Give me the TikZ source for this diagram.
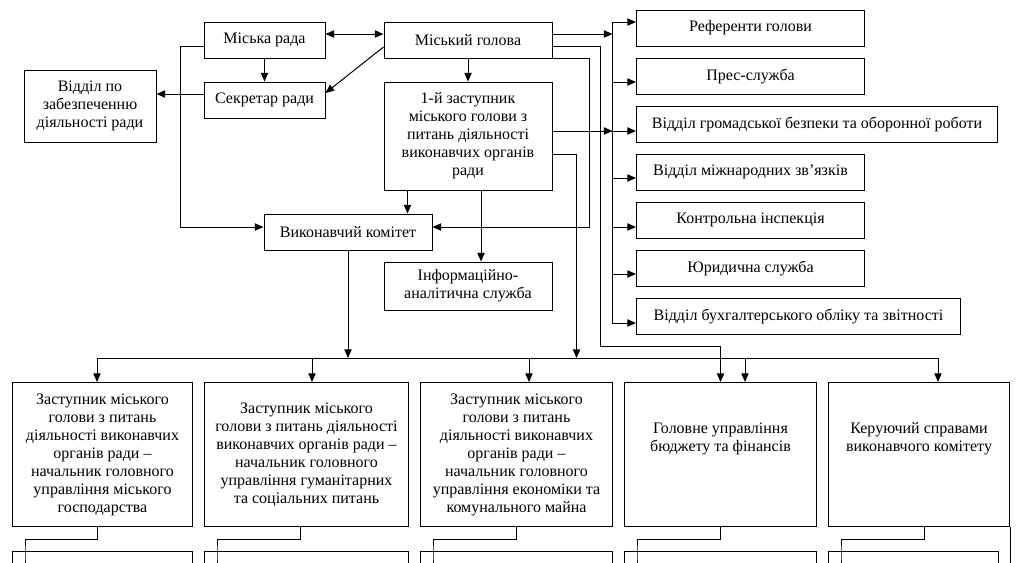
\documentclass[tikz,border=0pt]{standalone}
\usepackage{fontspec}
\setmainfont{Liberation Serif}
\usetikzlibrary{arrows.meta}

\begin{document}
\begin{tikzpicture}
	[x=0.75pt, y=-0.75pt,
	line width=0.75pt,
	>={Triangle[length=6.5pt, width=5.5pt]},
	box/.style={draw, align=center, inner sep=0pt, minimum height=27pt,
		font=\fontsize{12}{13.5}\selectfont}]

	% Page frame
	\useasboundingbox (0,0) rectangle (1021,562);
	\clip (0,0) rectangle (1021,562);

	% Draw upper boxes
	\node[box, minimum width=90.75pt] (rada) at (264.5,40) {Міська рада};
	\node[box, minimum width=90.75pt] (sekr) at (264.5,100) {Секретар ради};
	\node[box, minimum width=99pt, minimum height=54pt] (viddil) at (90,106)
		{Відділ по\\забезпеченню\\діяльності ради};
	\node[box, minimum width=126pt] (holova) at (468,40) {Міський голова};
	\node[box, minimum width=126pt, minimum height=81pt] (zast) at (468,136)
		{1-й заступник\\міського голови з\\питань діяльності\\виконавчих органів\\ради};
	\node[box, minimum width=126pt] (vykon) at (348,232) {Виконавчий комітет};
	\node[box, minimum width=126pt, minimum height=36pt] (inform) at (468,286)
		{Інформаційно-\\аналітична служба};

	% Draw boxes on the right
	\foreach \n/\y/\w/\t in {ref/28/171/Референти голови,
		pres/76/171/Прес-служба,
		gromad/124/270.75/Відділ громадської безпеки та оборонної роботи,
		mizhn/172/171/Відділ міжнародних зв’язків,
		kontr/220/171/Контрольна інспекція,
		yur/268/171/Юридична служба,
		bukh/316/243/Відділ бухгалтерського обліку та звітності}
		\node[box, anchor=west, minimum width=\w pt] (\n) at (636,\y) {\t};

	% Draw lower boxes
	\node[box, anchor=north west, minimum width=135pt, minimum height=108pt] (b1) at (12,382)
		{Заступник міського\\голови з питань\\діяльності виконавчих\\органів ради –\\начальник головного\\управління міського\\господарства};
	\node[box, anchor=north west, minimum width=153pt, minimum height=108pt] (b2) at (204,382)
		{Заступник міського\\голови з питань діяльності\\виконавчих органів ради –\\начальник головного\\управління гуманітарних\\та соціальних питань};
	\node[box, anchor=north west, minimum width=144pt, minimum height=108pt] (b3) at (420,382)
		{Заступник міського\\голови з питань\\діяльності виконавчих\\органів ради –\\начальник головного\\управління економіки та\\комунального майна};
	\node[box, anchor=north west, minimum width=144pt, minimum height=108pt] (b4) at (624,382)
		{Головне управління\\бюджету та фінансів\\[12pt]};
	\node[box, anchor=north west, minimum width=135.75pt, minimum height=108pt] (b5) at (828,382)
		{Керуючий справами\\виконавчого комітету\\[12pt]};

	% Boxes of the next level (cut off)
	\foreach \n/\x/\w in {c1/12/135, c2/204/153, c3/420/144, c4/624/144, c5/828/127.5}
		\node[box, anchor=north west, minimum width=\w pt, minimum height=30pt] (\n) at (\x,551) {};

	% Connect council, secretary and mayor
	\draw[<->] ([yshift=4.5pt]rada.east) -- ([yshift=4.5pt]holova.west);
	\draw[->] (rada) -- (sekr);
	\draw[->] ([yshift=-5.25pt]holova.west) -- ([yshift=5.25pt]sekr.east);
	\coordinate (S1) at ([yshift=4.5pt]sekr.west);
	\draw[->] (S1) -- (S1 -| viddil.east);
	\draw[->] ([yshift=-4.5pt]rada.west) -- ++(-23,0) |- ([yshift=3.75pt]vykon.west);
	\draw[->] (holova) -- (zast);
	\draw[->] (holova.south east) -- ++(37,0) |- ([yshift=3.75pt]vykon.east);

	% Connect first deputy
	\coordinate (Z1) at ([xshift=18pt]zast.south west);
	\coordinate (Z2) at ([xshift=9.75pt]zast.south);
	\coordinate (Z3) at ([yshift=3.75pt]zast.east);
	\draw[->] (Z1) -- (Z1 |- vykon.north);
	\draw[->] (Z2) -- (Z2 |- inform.north);
	\draw[->] (Z3) -- ++(60,0);
	\draw[->] (Z3) -- (Z3 -| gromad.west);

	% Right bus
	\draw[->] ([yshift=4.5pt]holova.east) -- ++(60,0);
	\draw[->] ([xshift=-18pt, yshift=-5.25pt]bukh.west) |- ([yshift=4.5pt]ref.west);
	\foreach \n/\s in {pres/-4.5pt, mizhn/-4.5pt, kontr/-5.25pt, yur/-4.5pt, bukh/-5.25pt}
		\draw[<-] ([yshift=\s]\n.west) -- ++(-24,0);

	% Lower bus
	\coordinate (BL) at (97,358);
	\coordinate (BR) at (938,358);
	\draw (BL) -- (BR);
	\foreach \x/\b in {97/b1, 312/b2, 529/b3, 745/b4, 938/b5}
		\draw[->] (\x,358) -- (\x,358 |- \b.north);
	\draw[->] (vykon) -- (vykon.south |- BL);
	\draw[->] ([yshift=-13.5pt]zast.east) -- ++(24,0) -- ++(0,204);
	\draw[->] ([yshift=-4.5pt]holova.east) -- ++(48,0) -- ++(0,300) -| (b4.north);

	% Links to the next level
	\foreach \b/\c/\s in {b1/c1/-3.75pt, b2/c2/-4.5pt, b3/c3/0pt, b4/c4/0pt, b5/c5/4.125pt}
		\draw ([xshift=\s]\b.south) -- ++(0,12) -| ([xshift=9.75pt]\c.north west) -- ++(0,20);
	\draw (b5.south east) -- ++(0,40);

\end{tikzpicture}
\end{document}
